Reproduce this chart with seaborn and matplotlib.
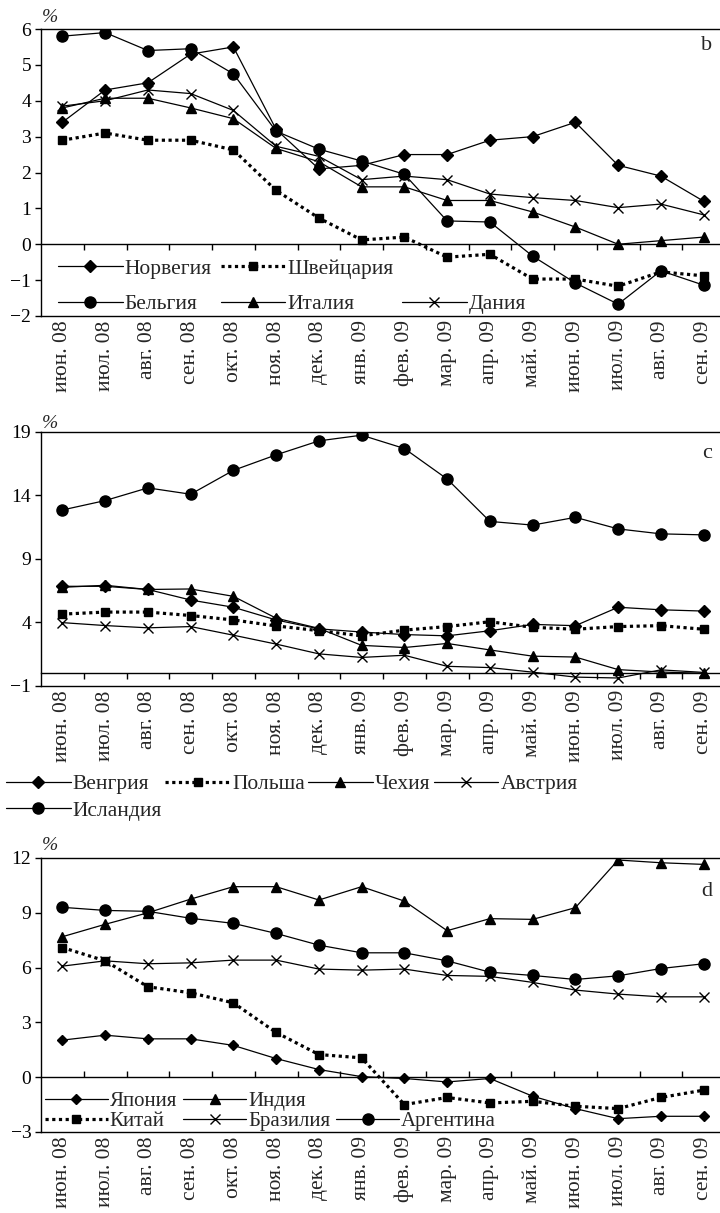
import numpy as np
import matplotlib
matplotlib.use('Agg')
import matplotlib.pyplot as plt
from matplotlib.lines import Line2D
import seaborn as sns

months = ['июн. 08', 'июл. 08', 'авг. 08', 'сен. 08', 'окт. 08', 'ноя. 08',
          'дек. 08', 'янв. 09', 'фев. 09', 'мар. 09', 'апр. 09', 'май. 09',
          'июн. 09', 'июл. 09', 'авг. 09', 'сен. 09']

# ---- panel b ----
norway = [3.4, 4.3, 4.5, 5.3, 5.5, 3.2, 2.1, 2.2, 2.5, 2.5, 2.9, 3.0, 3.4, 2.2, 1.9, 1.2]
switzerland = [2.9, 3.1, 2.9, 2.9, 2.63, 1.5, 0.73, 0.12, 0.2, -0.36, -0.28, -0.97, -0.97, -1.17, -0.77, -0.88]
belgium = [5.8, 5.9, 5.4, 5.45, 4.75, 3.15, 2.65, 2.32, 1.95, 0.65, 0.62, -0.33, -1.08, -1.67, -0.74, -1.14]
italy = [3.8, 4.07, 4.07, 3.8, 3.5, 2.67, 2.3, 1.6, 1.6, 1.22, 1.22, 0.9, 0.48, 0.0, 0.1, 0.2]
denmark = [3.85, 4.0, 4.3, 4.2, 3.73, 2.73, 2.45, 1.8, 1.9, 1.8, 1.4, 1.3, 1.22, 1.02, 1.12, 0.82]

# ---- panel c ----
hungary = [6.85, 6.85, 6.6, 5.77, 5.2, 4.2, 3.5, 3.25, 3.05, 2.95, 3.35, 3.85, 3.75, 5.2, 5.0, 4.9]
poland = [4.66, 4.82, 4.82, 4.55, 4.2, 3.73, 3.36, 2.95, 3.4, 3.68, 4.06, 3.62, 3.47, 3.68, 3.75, 3.47]
czech = [6.77, 6.93, 6.6, 6.64, 6.06, 4.34, 3.54, 2.2, 2.03, 2.35, 1.84, 1.35, 1.28, 0.29, 0.1, 0.0]
austria = [3.99, 3.76, 3.58, 3.68, 3.0, 2.3, 1.53, 1.25, 1.42, 0.55, 0.45, 0.09, -0.3, -0.37, 0.27, 0.07]
iceland = [12.86, 13.6, 14.6, 14.1, 15.98, 17.2, 18.3, 18.75, 17.7, 15.3, 11.96, 11.67, 12.28, 11.37, 10.98, 10.9]

# ---- panel d ----
japan = [2.03, 2.3, 2.1, 2.1, 1.74, 1.02, 0.42, 0.03, -0.07, -0.26, -0.07, -1.04, -1.72, -2.27, -2.14, -2.14]
india = [7.69, 8.37, 9.0, 9.75, 10.43, 10.43, 9.7, 10.43, 9.64, 8.02, 8.68, 8.64, 9.28, 11.89, 11.74, 11.65]
china = [7.1, 6.37, 4.95, 4.62, 4.07, 2.45, 1.24, 1.06, -1.5, -1.11, -1.41, -1.32, -1.59, -1.72, -1.11, -0.71]
brazil = [6.08, 6.37, 6.21, 6.26, 6.41, 6.41, 5.92, 5.86, 5.92, 5.57, 5.52, 5.19, 4.77, 4.55, 4.4, 4.4]
argentina = [9.3, 9.13, 9.08, 8.7, 8.42, 7.87, 7.23, 6.81, 6.81, 6.37, 5.75, 5.57, 5.35, 5.55, 5.95, 6.21]

yticks_b = [-2, -1, 0, 1, 2, 3, 4, 5, 6]
yticks_c = [-1, 4, 9, 14, 19]
yticks_d = [-3, 0, 3, 6, 9, 12]

sns.set_style('white')
plt.rcParams['font.family'] = ['Liberation Serif', 'DejaVu Serif']
plt.rcParams['axes.unicode_minus'] = True

W, H = 720, 1213
fig = plt.figure(figsize=(W / 100, H / 100), dpi=100)


def px_axes(left, top, right, bottom):
    return fig.add_axes([left / W, 1 - bottom / H, (right - left) / W, (bottom - top) / H])


x = np.arange(len(months))
solid = dict(linestyle='-', linewidth=0.9)
dotted = dict(linestyle=(0, (1.0, 1.1)), linewidth=2.3)
msize = {'D': 6.5, 'd': 5.5, 's': 5.5, 'o': 8.0, '^': 7.5, 'x': 7.0}


def draw(ax, series):
    handles = {}
    for label, vals, mk, st in series:
        size = msize[mk]
        mk = 'D' if mk == 'd' else mk
        sns.lineplot(x=x, y=vals, ax=ax, color='black', marker=mk,
                     markersize=size, markeredgecolor='black',
                     markerfacecolor='black', markeredgewidth=1.0,
                     errorbar=None, legend=False, **st)
        handles[label] = ax.get_lines()[-1]
    return handles


def setup(ax, ylo, yhi, yticks, zero_dir):
    ax.set_xlim(-0.5, 15.5)
    ax.set_ylim(ylo, yhi)
    ax.set_yticks(yticks)
    ax.set_xticks(x)
    ax.set_xticklabels(months, rotation=90, fontsize=15.5)
    ax.set_xlabel('')
    ax.set_ylabel('')
    ax.tick_params(axis='x', length=0, pad=3, bottom=False)
    ax.tick_params(axis='y', direction='out', length=4, width=1, pad=3,
                   labelsize=14, left=True, colors='black')
    for s in ['top', 'left', 'bottom']:
        ax.spines[s].set_visible(True)
        ax.spines[s].set_color('black')
        ax.spines[s].set_linewidth(1.0)
    ax.spines['right'].set_visible(False)
    sec = ax.secondary_xaxis((0 - ylo) / (yhi - ylo))
    sec.set_ticks(np.arange(0.5, 15, 1))
    sec.tick_params(axis='x', direction=zero_dir, length=4, width=1,
                    bottom=True, top=False, labelbottom=False, labeltop=False,
                    colors='black')
    for s in sec.spines.values():
        s.set_color('black')
        s.set_linewidth(1.0)


blank = Line2D([], [], linestyle='none')
leg_kw = dict(frameon=False, handlelength=3.0, handletextpad=0.1,
              numpoints=1, borderpad=0, borderaxespad=0)

# ---------------- panel b ----------------
axb = px_axes(41, 29, 725, 316)
hb = draw(axb, [('Норвегия', norway, 'D', solid),
                ('Швейцария', switzerland, 's', dotted),
                ('Бельгия', belgium, 'o', solid),
                ('Италия', italy, '^', solid),
                ('Дания', denmark, 'x', solid)])
setup(axb, -2, 6, yticks_b, 'out')
orderb = ['Норвегия', 'Бельгия', 'Швейцария', 'Италия', None, 'Дания']
axb.legend([hb[k] if k else blank for k in orderb], [k if k else '' for k in orderb],
           ncol=3, loc='lower left', bbox_to_anchor=(0.025, 0.006), fontsize=15.5,
           columnspacing=0.4, labelspacing=0.72, **leg_kw)

# ---------------- panel c ----------------
axc = px_axes(41, 432, 725, 686)
hc = draw(axc, [('Венгрия', hungary, 'D', solid),
                ('Польша', poland, 's', dotted),
                ('Чехия', czech, '^', solid),
                ('Австрия', austria, 'x', solid),
                ('Исландия', iceland, 'o', solid)])
setup(axc, -1, 19, yticks_c, 'out')
orderc = ['Венгрия', 'Исландия', 'Польша', None, 'Чехия', None, 'Австрия', None]
axc.legend([hc[k] if k else blank for k in orderc], [k if k else '' for k in orderc],
           ncol=4, loc='upper left', bbox_to_anchor=(6 / W, 1 - 774 / H),
           bbox_transform=fig.transFigure, fontsize=15.5,
           columnspacing=0.15, labelspacing=0.3, **leg_kw)

# ---------------- panel d ----------------
axd = px_axes(41, 858, 725, 1132)
hd = draw(axd, [('Япония', japan, 'd', solid),
                ('Индия', india, '^', solid),
                ('Китай', china, 's', dotted),
                ('Бразилия', brazil, 'x', solid),
                ('Аргентина', argentina, 'o', solid)])
setup(axd, -3, 12, yticks_d, 'in')
orderd = ['Япония', 'Китай', 'Индия', 'Бразилия', None, 'Аргентина']
axd.legend([hd[k] if k else blank for k in orderd], [k if k else '' for k in orderd],
           ncol=3, loc='lower left', bbox_to_anchor=(0.006, 0.004), fontsize=15,
           columnspacing=0.3, labelspacing=0.0, **leg_kw)

# panel letters and % signs
for ax, letter, ly in [(axb, 'b', 45), (axc, 'c', 453), (axd, 'd', 891)]:
    fig.text(707 / W, 1 - ly / H, letter, fontsize=16, ha='center', va='center')
for py in [17, 424, 845]:
    fig.text(50 / W, 1 - py / H, '%', fontsize=14, style='italic', ha='center', va='center')

fig.savefig('out.png', dpi=100)
